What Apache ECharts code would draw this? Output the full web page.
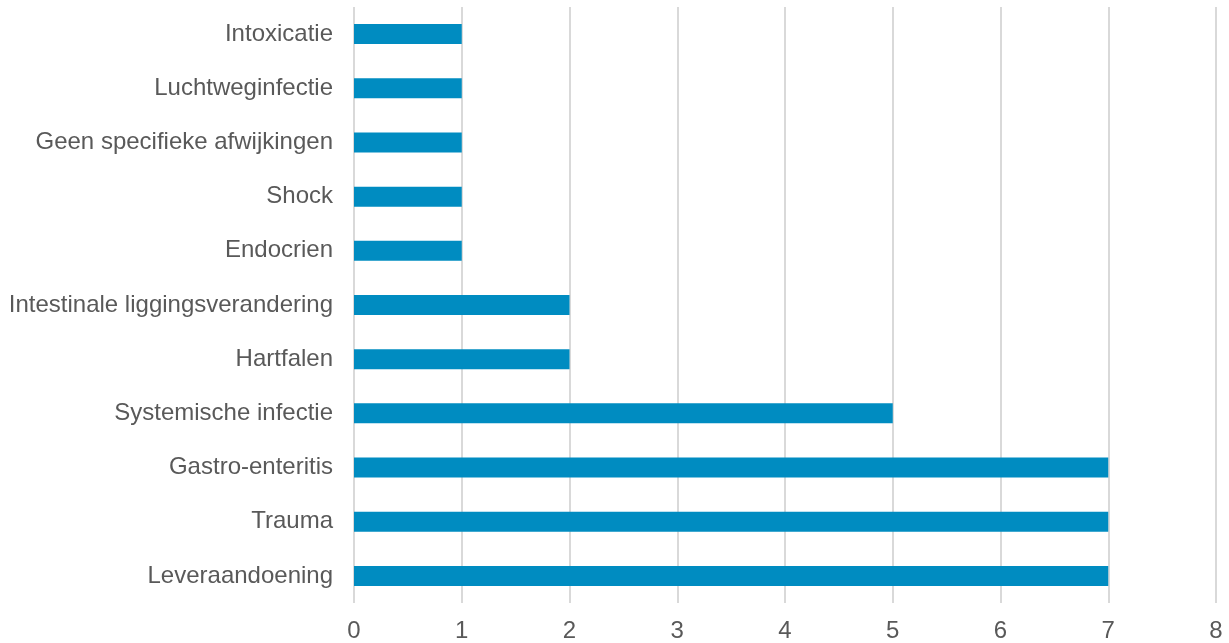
<!DOCTYPE html>
<html>
<head>
<meta charset="utf-8">
<style>
  html, body { margin: 0; padding: 0; background: #ffffff; }
  #chart { width: 1229px; height: 643px; }
</style>
<script src="https://cdn.jsdelivr.net/npm/echarts@6/dist/echarts.min.js"></script>
</head>
<body>
<div id="chart"></div>
<script>
// Categories listed bottom to top
const categories = [
  'Leveraandoening',
  'Trauma',
  'Gastro-enteritis',
  'Systemische infectie',
  'Hartfalen',
  'Intestinale liggingsverandering',
  'Endocrien',
  'Shock',
  'Geen specifieke afwijkingen',
  'Luchtweginfectie',
  'Intoxicatie'
];
const counts = [7, 7, 7, 5, 2, 2, 1, 1, 1, 1, 1];
const xTicks = [0, 1, 2, 3, 4, 5, 6, 7, 8];

const chart = echarts.init(document.getElementById('chart'), null, { renderer: 'canvas' });
chart.setOption({
  animation: false,
  backgroundColor: '#ffffff',
  textStyle: { fontFamily: '"Liberation Sans", Arial, sans-serif' },
  grid: { left: 354, right: 13, top: 7, bottom: 40, containLabel: false },
  xAxis: {
    type: 'value',
    min: xTicks[0],
    max: xTicks[xTicks.length - 1],
    interval: 1,
    axisLine: { show: false },
    axisTick: { show: false },
    axisLabel: {
      color: '#595959',
      fontSize: 24,
      margin: 16,
      fontFamily: '"Liberation Sans", Arial, sans-serif'
    },
    splitLine: { show: true, lineStyle: { color: '#d9d9d9', width: 2 } }
  },
  yAxis: {
    type: 'category',
    data: categories,
    axisLine: { show: false },
    axisTick: { show: false },
    axisLabel: {
      color: '#595959',
      fontSize: 24,
      margin: 21,
      fontFamily: '"Liberation Sans", Arial, sans-serif'
    },
    splitLine: { show: false }
  },
  series: [{
    type: 'bar',
    data: counts,
    barWidth: 20,
    itemStyle: { color: '#008cc1' }
  }]
});
</script>
</body>
</html>
